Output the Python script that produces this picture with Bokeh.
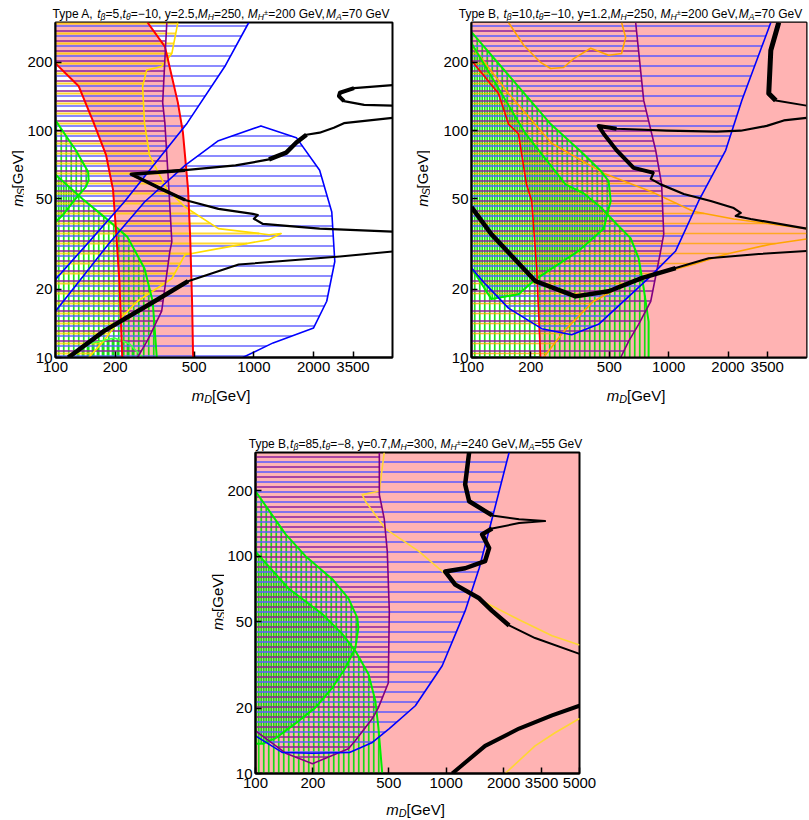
import numpy as np
from bokeh.plotting import figure
from bokeh.models import Label, FixedTicker, Spacer, ColumnDataSource
from bokeh.layouts import row, column
from bokeh.embed import file_html
from bokeh.resources import INLINE

# ---------------- axes ----------------
x_ticks = [100, 200, 500, 1000, 2000, 3162]
x_tick_labels = ["100", "200", "500", "1000", "2000", "3500"]
x_ticks_c = [100, 200, 500, 1000, 2000, 3162, 5000]
x_tick_labels_c = ["100", "200", "500", "1000", "2000", "3500", "5000"]
y_ticks = [10, 20, 50, 100, 200]
y_tick_labels = ["10", "20", "50", "100", "200"]

title_a = [("Type A, ", "n"), ("t", "i"), ("β", "sub"), ("=5,", "n"), ("t", "i"), ("θ", "sub"),
           ("=−10, y=2.5,", "n"), ("M", "i"), ("H", "sub"), ("=250, ", "n"), ("M", "i"), ("H", "sub"),
           ("±", "sup"), ("=200 GeV,", "n"), ("M", "i"), ("A", "sub"), ("=70 GeV", "n")]
title_b = [("Type B, ", "n"), ("t", "i"), ("β", "sub"), ("=10,", "n"), ("t", "i"), ("θ", "sub"),
           ("=−10, y=1.2,", "n"), ("M", "i"), ("H", "sub"), ("=250, ", "n"), ("M", "i"), ("H", "sub"),
           ("±", "sup"), ("=200 GeV,", "n"), ("M", "i"), ("A", "sub"), ("=70 GeV", "n")]
title_c = [("Type B,", "n"), ("t", "i"), ("β", "sub"), ("=85,", "n"), ("t", "i"), ("θ", "sub"),
           ("=−8, y=0.7,", "n"), ("M", "i"), ("H", "sub"), ("=300, ", "n"), ("M", "i"), ("H", "sub"),
           ("±", "sup"), ("=240 GeV,", "n"), ("M", "i"), ("A", "sub"), ("=55 GeV", "n")]
xlabel = [("m", "i"), ("D", "sub"), ("[GeV]", "n")]
ylabel = [("m", "i"), ("S", "sub"), ("[GeV]", "n")]

# ---------------- panel A (Type A) ----------------
A_red_left_x = [100, 131, 156, 180, 195, 202, 210, 217]
A_red_left_y = [198, 157, 108, 78, 55, 36, 21.7, 10]
A_red_right_x = [291, 356, 414, 439, 466, 477, 488, 494]
A_red_right_y = [300, 235, 133, 98, 55, 34.8, 17.7, 10]
A_blue1_x = [100, 151, 222, 461, 719, 943]
A_blue1_y = [22.1, 33.1, 48.5, 108, 194, 300]
A_blue2_x = [100, 186, 281, 450, 663, 1086, 1638, 2146, 2471, 2559, 2330, 2000, 1250, 879]
A_blue2_y = [16.0, 31.8, 48.5, 70.3, 90.4, 105, 93.2, 66.9, 43.8, 26.5, 17.7, 13.5, 11.6, 10]
A_purple_x = [364, 347, 356, 373, 386, 377, 343, 291, 259]
A_purple_y = [300, 133, 108, 55, 32.4, 29.3, 16.0, 11.9, 10]
A_yellow_x = [414, 386, 343, 288, 275, 281, 298, 364, 450, 663, 1193, 1373, 1193, 663, 450, 386, 259, 215, 176, 147]
A_yellow_y = [300, 219, 192, 185, 157, 108, 77.8, 55.3, 46.1, 37.0, 34.8, 35.2, 33.1, 30.2, 28.4, 22.3, 17.7, 15.0, 11.9, 10]
A_g1_x = [100, 119, 126, 146, 147, 142, 126, 109, 100]
A_g1_y = [111, 88.7, 82.6, 66, 60.5, 56.4, 50, 42.5, 39.6]
A_g2_x = [100, 137, 176, 230, 281, 309, 324]
A_g2_y = [64, 50, 41.7, 34.1, 24.7, 17.7, 10]
A_g3_x = [119, 147, 198, 236, 275]
A_g3_y = [10, 11.5, 12.2, 11.5, 10]
A_k1_x = [116, 176, 316, 466, 838, 2715, 5000]
A_k1_y = [10, 13.1, 17.7, 21.7, 25.7, 27.9, 29.3]
A_k2_x = [5000, 2146, 1111, 1000, 1047, 988, 663, 450, 343, 241, 450, 809, 1193, 1456, 1638, 1842, 2146, 2530, 2845, 5000]
A_k2_y = [35.9, 37, 38.8, 40.9, 42.5, 43, 45.2, 49.5, 55.3, 64.3, 67, 70.3, 74.7, 80, 88.7, 96, 98, 103, 108, 114]
A_k3_x = [5000, 3199, 2715, 2684, 2845, 3597, 5000]
A_k3_y = [159, 154, 147, 142, 135, 130, 129]

# ---------------- panel B (Type B, tb=10) ----------------
B_red_x = [100, 137, 154, 173, 190, 202, 214, 224]
B_red_y = [204, 146, 107, 97, 58, 49, 24.8, 10]
B_blue_x = [3296, 2349, 1946, 1419, 1085, 791, 441, 322, 227, 154, 118, 100]
B_blue_y = [300, 136, 82, 49, 29.5, 22.4, 14.0, 12.6, 13.4, 16.5, 21.0, 24.8]
B_purple_x = [680, 747, 859, 921, 944, 911, 811, 704, 627, 571]
B_purple_y = [300, 136, 82, 58, 35, 29.5, 17.7, 14.0, 11.8, 10]
B_orange_top_x = [154, 184, 224, 252, 293, 330, 402, 496, 577, 605, 577]
B_orange_top_y = [300, 238, 200, 188, 190, 208, 231, 215, 219, 258, 300]
B_orange_up_x = [102, 154, 255, 468, 811, 1340, 2138, 3296, 5000]
B_orange_up_y = [233, 146, 88, 65, 54, 44, 40.8, 38.8, 37]
B_orange_lo_x = [5000, 3296, 1970, 1340, 869, 612, 416, 293, 232]
B_orange_lo_y = [33.3, 31.6, 28.6, 25.8, 23.3, 21.2, 17.7, 13.0, 10]
B_g1_x = [100, 252, 370, 452, 496, 508, 468, 349, 211, 173, 126, 100]
B_g1_y = [272, 107, 79, 66.5, 60, 49, 37, 29.5, 22.1, 19.0, 18.1, 24.8]
B_g2_x = [100, 188, 300, 370, 452, 544, 641, 704, 747, 791, 791]
B_g2_y = [243, 97, 58, 53, 46, 38.8, 33.6, 27.4, 20.2, 14.4, 10]
B_k1_x = [100, 126, 211, 337, 496, 729, 1085, 1596, 2866, 5000]
B_k1_y = [46, 35, 21.7, 18.6, 19.6, 22.4, 24.8, 27.4, 28.6, 29.5]
B_k2_x = [5000, 2608, 2188, 2320, 2138, 1634, 1192, 911, 811, 839, 664, 544, 468, 441, 544, 977, 1753, 2320, 3143, 3836, 5000]
B_k2_y = [37, 40.8, 42.1, 43.4, 45.6, 49, 52.6, 58, 61.3, 65.2, 68.6, 82, 97, 105, 102, 100, 99, 100, 105, 111, 114]
B_k3_x = [3616, 3296, 3218, 3493, 5000]
B_k3_y = [300, 226, 146, 136, 129]

# ---------------- panel C (Type B, tb=85) ----------------
C_blue_x = [2137, 1741, 1489, 1257, 953, 689, 503, 410, 311, 199, 138, 100]
C_blue_y = [300, 149, 88, 56, 31.3, 20.5, 16.1, 13.9, 12.5, 12.4, 12.5, 14.9]
C_purple_x = [446, 446, 473, 491, 503, 497, 441, 410, 334, 307, 199, 144, 100]
C_purple_y = [300, 192, 149, 105, 56, 26.1, 20.1, 17.9, 14.2, 13.0, 11.1, 12.4, 15.7]
C_yellow1_x = [473, 446, 363, 377, 479, 722, 988, 1319, 1741, 2411, 3589, 5000]
C_yellow1_y = [300, 199, 192, 179, 134, 105, 83, 67, 59, 51, 43, 39]
C_yellow2_x = [2036, 2924, 3723, 5000]
C_yellow2_y = [10, 13.4, 15.4, 17.9]
C_g1_x = [100, 144, 183, 253, 307, 342, 346, 334, 296, 253, 206, 162, 127, 109, 100]
C_g1_y = [199, 126, 100, 78.4, 64, 52, 46.7, 37.8, 30.6, 24.8, 20.1, 17.0, 14.5, 13.7, 13.7]
C_g2_x = [100, 149, 224, 285, 334, 391, 425, 441, 462]
C_g2_y = [105, 71, 54.2, 43.9, 36.6, 28.7, 21.6, 16.3, 10]
C_k1_x = [1319, 1257, 1319, 1741, 2411, 3299, 2411, 1741, 1543, 1679, 1600, 1257, 988, 1115, 1489, 1741, 2137, 2924, 5000]
C_k1_y = [300, 214, 179, 154, 148, 145, 142, 134, 126, 109, 95, 88, 85, 74, 64, 56, 48, 42, 35.5]
C_k2_x = [1075, 1600, 2411, 3589, 5000]
C_k2_y = [10, 13.4, 16.1, 18.5, 20.5]

# ---------------- styles ----------------
X_LO, X_HI, Y_LO, Y_HI = 100, 5000, 10, 300
PINK = "#ffb3b3"
FONT = "Liberation Sans"
H_BLUE, H_PURPLE, H_YELLOW, H_ORANGE, H_GREEN = "#5a5aff", "#8e1f9e", "#ffcc00", "#ffa500", "#00e000"

CW = {' ': 278, ',': 278, '.': 278, '-': 333, '−': 584, '=': 584, '±': 584, 'A': 667, 'B': 667,
      'D': 722, 'G': 778, 'H': 722, 'M': 833, 'S': 667, 'T': 611, 'V': 667, 'e': 556, 'm': 833,
      'p': 556, 't': 278, 'y': 500, 'β': 575, 'θ': 556, '[': 278, ']': 278}

STEPS = {}


def tw(s, size):
    return sum(CW.get(c, 556) for c in s) * size / 1000.0


def rich(f, parts, x, y, size, angle=0.0):
    """Lay out a run of text pieces (normal / italic / subscript / superscript) centred on x (or y)."""
    sizes = {'n': size, 'i': size, 'sub': size * 0.72, 'sup': size * 0.62}
    shift = {'n': 0, 'i': 0, 'sub': -size * 0.26, 'sup': size * 0.12}
    total = sum(tw(t, sizes[s]) for t, s in parts)
    pos = -total / 2.0
    for t, s in parts:
        w = tw(t, sizes[s])
        if angle == 0:
            lx, ly = x + pos, y + shift[s]
        else:
            lx, ly = x - shift[s], y + pos
        f.add_layout(Label(x=lx, y=ly, text=t, angle=angle,
                           text_font=FONT, text_font_size="%.1fpx" % sizes[s],
                           text_font_style="normal" if s == "n" else "italic",
                           text_align="left", text_baseline="alphabetic", text_color="black"))
        pos += w


def text_fig(w, h):
    f = figure(width=w, height=h, x_range=(0, w), y_range=(0, h), min_border=0,
               x_axis_location=None, y_axis_location=None, toolbar_location=None, output_backend="svg")
    f.outline_line_color = None
    f.xgrid.visible = False
    f.ygrid.visible = False
    f.background_fill_color = "white"
    f.border_fill_color = "white"
    return f


def hatch(xs, ys, vertical, step, phase):
    lx = np.log10(np.asarray(xs, float))
    ly = np.log10(np.asarray(ys, float))
    if vertical:
        lx, ly = ly, lx
        lo, hi = np.log10(X_LO), np.log10(X_HI)
    else:
        lo, hi = np.log10(Y_LO), np.log10(Y_HI)
    n = len(lx)
    a0, a1, lev = [], [], []
    L = lo + (phase + 0.15) * step
    while L < hi:
        cr = []
        for i in range(n):
            x1, y1 = lx[i], ly[i]
            x2, y2 = lx[(i + 1) % n], ly[(i + 1) % n]
            if (y1 <= L < y2) or (y2 <= L < y1):
                cr.append(x1 + (L - y1) * (x2 - x1) / (y2 - y1))
        cr.sort()
        for u, v in zip(cr[0::2], cr[1::2]):
            a0.append(10 ** u); a1.append(10 ** v); lev.append(10 ** L)
        L += step
    if vertical:
        return dict(x0=lev, x1=lev, y0=a0, y1=a1)
    return dict(x0=a0, x1=a1, y0=lev, y1=lev)


def make_fig(fw, fh, bl, br, bt, bb, xt, xtl):
    p = figure(x_axis_type="log", y_axis_type="log", x_range=(X_LO, X_HI), y_range=(Y_LO, Y_HI),
               frame_width=fw, frame_height=fh, min_border_left=bl, min_border_right=br,
               min_border_top=bt, min_border_bottom=bb, toolbar_location=None, output_backend="svg")
    p.xgrid.visible = False
    p.ygrid.visible = False
    p.xaxis.ticker = FixedTicker(ticks=xt)
    p.yaxis.ticker = FixedTicker(ticks=y_ticks)
    p.xaxis.major_label_overrides = {t: s for t, s in zip(xt, xtl)}
    p.yaxis.major_label_overrides = {t: s for t, s in zip(y_ticks, y_tick_labels)}
    for ax in (p.xaxis, p.yaxis):
        ax.major_tick_in = 6
        ax.major_tick_out = 0
        ax.minor_tick_line_color = None
        ax.axis_line_color = "black"
        ax.axis_line_width = 2
        ax.major_tick_line_color = "black"
        ax.major_tick_line_width = 1.5
        ax.major_label_text_font = FONT
        ax.major_label_text_color = "black"
        ax.major_label_standoff = 4
        ax.major_label_text_font_size = "15px"
    p.yaxis.major_label_standoff = 3
    p.outline_line_color = "black"
    p.outline_line_width = 2
    p.background_fill_color = "white"
    p.border_fill_color = "white"
    STEPS[p.id] = (10.0 * np.log10(Y_HI / Y_LO) / fh, 5.0 * np.log10(X_HI / X_LO) / fw)
    return p


def hh(p, xs, ys, phase, color, width=2.0, alpha=0.75):
    d = hatch(xs, ys, False, STEPS[p.id][0], phase)
    p.segment(x0="x0", y0="y0", x1="x1", y1="y1", source=ColumnDataSource(d),
              line_color=color, line_width=width, line_alpha=alpha)


def vh(p, xs, ys, phase, color=H_GREEN, width=1.7, alpha=0.9):
    d = hatch(xs, ys, True, STEPS[p.id][1], phase)
    p.segment(x0="x0", y0="y0", x1="x1", y1="y1", source=ColumnDataSource(d),
              line_color=color, line_width=width, line_alpha=alpha)


def ln(p, xs, ys, color, width):
    p.line(xs, ys, line_color=color, line_width=width, line_join="round")


# ---------------- geometry ----------------
FA_W, FA_H = 337, 335
FB_W = 335
FC_W, FC_H = 324, 321
TOP_H = 1 + FA_H + 23
BOT_H = 1 + FC_H + 22

# ---------------- Panel A ----------------
pa = make_fig(FA_W, FA_H, 28, 8, 1, 23, x_ticks, x_tick_labels)
pa.patch([100] + A_red_right_x + A_red_left_x[::-1], [300] + A_red_right_y + A_red_left_y[::-1],
         fill_color=PINK, line_color=None)
vh(pa, A_g1_x, A_g1_y, 0.0)
vh(pa, A_g2_x + [100], A_g2_y + [10], 0.5)
vh(pa, A_g3_x, A_g3_y, 0.25)
hh(pa, A_yellow_x + [100, 100], A_yellow_y + [10, 300], 0.25, H_YELLOW, alpha=0.8)
hh(pa, A_purple_x + [100, 100], A_purple_y + [10, 300], 0.5, H_PURPLE, alpha=0.75)
hh(pa, A_blue1_x + [100], A_blue1_y + [300], 0.0, H_BLUE, alpha=0.7)
hh(pa, A_blue2_x + [100], A_blue2_y + [10], 0.0, H_BLUE, alpha=0.7)
ln(pa, A_yellow_x, A_yellow_y, "#ffdd00", 1.6)
ln(pa, A_g1_x, A_g1_y, "#00ee00", 2)
ln(pa, A_g2_x, A_g2_y, "#00ee00", 2)
ln(pa, A_g3_x, A_g3_y, "#44ff44", 1.6)
ln(pa, A_red_left_x, A_red_left_y, "#ff0000", 2)
ln(pa, A_red_right_x, A_red_right_y, "#ff0000", 2)
ln(pa, A_purple_x, A_purple_y, "#800080", 1.6)
ln(pa, A_blue1_x, A_blue1_y, "#0000ff", 1.6)
ln(pa, A_blue2_x, A_blue2_y, "#0000ff", 1.6)
ln(pa, A_k1_x, A_k1_y, "black", 2)
ln(pa, A_k1_x[:4], A_k1_y[:4], "black", 4.5)
ln(pa, A_k2_x, A_k2_y, "black", 2.2)
ln(pa, A_k2_x[7:11], A_k2_y[7:11], "black", 3.5)
ln(pa, A_k2_x[12:16], A_k2_y[12:16], "black", 4.5)
ln(pa, A_k3_x, A_k3_y, "black", 2.2)
ln(pa, A_k3_x[1:5], A_k3_y[1:5], "black", 4)

# ---------------- Panel B ----------------
pb = make_fig(FB_W, FA_H, 41, 3, 1, 23, x_ticks, x_tick_labels)
pb.patch([100, 5000, 5000] + B_red_x[::-1], [300, 300, 10] + B_red_y[::-1], fill_color=PINK, line_color=None)
vh(pb, B_g1_x, B_g1_y, 0.0)
vh(pb, B_g2_x + [100], B_g2_y + [10], 0.5)
hh(pb, B_orange_up_x + B_orange_lo_x + [100, 100], B_orange_up_y + B_orange_lo_y + [10, 233], 0.25, H_ORANGE, 1.6, 0.8)
hh(pb, B_purple_x + [100, 100], B_purple_y + [10, 300], 0.5, H_PURPLE, alpha=0.75)
hh(pb, B_blue_x + [100], B_blue_y + [300], 0.0, H_BLUE, alpha=0.75)
ln(pb, B_orange_top_x, B_orange_top_y, "#ffa500", 1.6)
ln(pb, B_orange_up_x, B_orange_up_y, "#ffa500", 1.6)
ln(pb, B_orange_lo_x, B_orange_lo_y, "#ffa500", 1.6)
ln(pb, B_g1_x, B_g1_y, "#00ee00", 2)
ln(pb, B_g2_x, B_g2_y, "#00ee00", 2)
ln(pb, B_red_x, B_red_y, "#ff0000", 1.6)
ln(pb, B_purple_x, B_purple_y, "#800080", 1.6)
ln(pb, B_blue_x, B_blue_y, "#0000ff", 1.6)
ln(pb, B_k1_x, B_k1_y, "black", 2)
ln(pb, B_k1_x[:7], B_k1_y[:7], "black", 4.5)
ln(pb, B_k2_x, B_k2_y, "black", 2.2)
ln(pb, B_k2_x[9:15], B_k2_y[9:15], "black", 4)
ln(pb, B_k3_x, B_k3_y, "black", 2)
ln(pb, B_k3_x[:4], B_k3_y[:4], "black", 5)

# ---------------- Panel C ----------------
pc = make_fig(FC_W, FC_H, 29, 22, 1, 22, x_ticks_c, x_tick_labels_c)
pc.background_fill_color = PINK
vh(pc, C_g1_x, C_g1_y, 0.0)
vh(pc, C_g2_x + [100], C_g2_y + [10], 0.5)
hh(pc, C_purple_x + [100], C_purple_y + [300], 0.5, H_PURPLE, alpha=0.75)
hh(pc, C_blue_x + [100], C_blue_y + [300], 0.0, H_BLUE, alpha=0.75)
ln(pc, C_yellow1_x, C_yellow1_y, "#ffd633", 1.6)
ln(pc, C_yellow2_x, C_yellow2_y, "#ffd633", 1.6)
ln(pc, C_g1_x, C_g1_y, "#00ee00", 2)
ln(pc, C_g2_x, C_g2_y, "#00ee00", 2)
ln(pc, C_purple_x, C_purple_y, "#800080", 1.6)
ln(pc, C_blue_x, C_blue_y, "#0000ff", 1.6)
ln(pc, C_k1_x, C_k1_y, "black", 2)
ln(pc, C_k1_x[:4], C_k1_y[:4], "black", 4.5)
ln(pc, C_k1_x[7:17], C_k1_y[7:17], "black", 4.5)
ln(pc, C_k2_x, C_k2_y, "black", 4)

# ---------------- text strips (titles and axis labels) ----------------
t1 = text_fig(809, 21)
rich(t1, title_a, 220.5, 8, 12)
rich(t1, title_b, 630, 8, 12)
ya = text_fig(24, TOP_H)
rich(ya, ylabel, 17, TOP_H - 1 - FA_H / 2.0, 15, angle=np.pi / 2)
yb = text_fig(30, TOP_H)
rich(yb, ylabel, 22, TOP_H - 1 - FA_H / 2.0, 15, angle=np.pi / 2)
x1 = text_fig(806, 25)
rich(x1, xlabel, 220.5, 10, 15)
rich(x1, xlabel, 635.5, 10, 15)
t2 = text_fig(600, 46)
rich(t2, title_c, 415, 8, 12)
yc = text_fig(24, BOT_H)
rich(yc, ylabel, 16.5, BOT_H - 1 - FC_H / 2.0, 15, angle=np.pi / 2)
x2 = text_fig(600, 24)
rich(x2, xlabel, 415, 10, 15)

layout = column(t1, row(ya, pa, yb, pb), x1, t2, row(Spacer(width=200, height=BOT_H), yc, pc), x2)
open("out.html", "w").write(file_html(layout, INLINE))
